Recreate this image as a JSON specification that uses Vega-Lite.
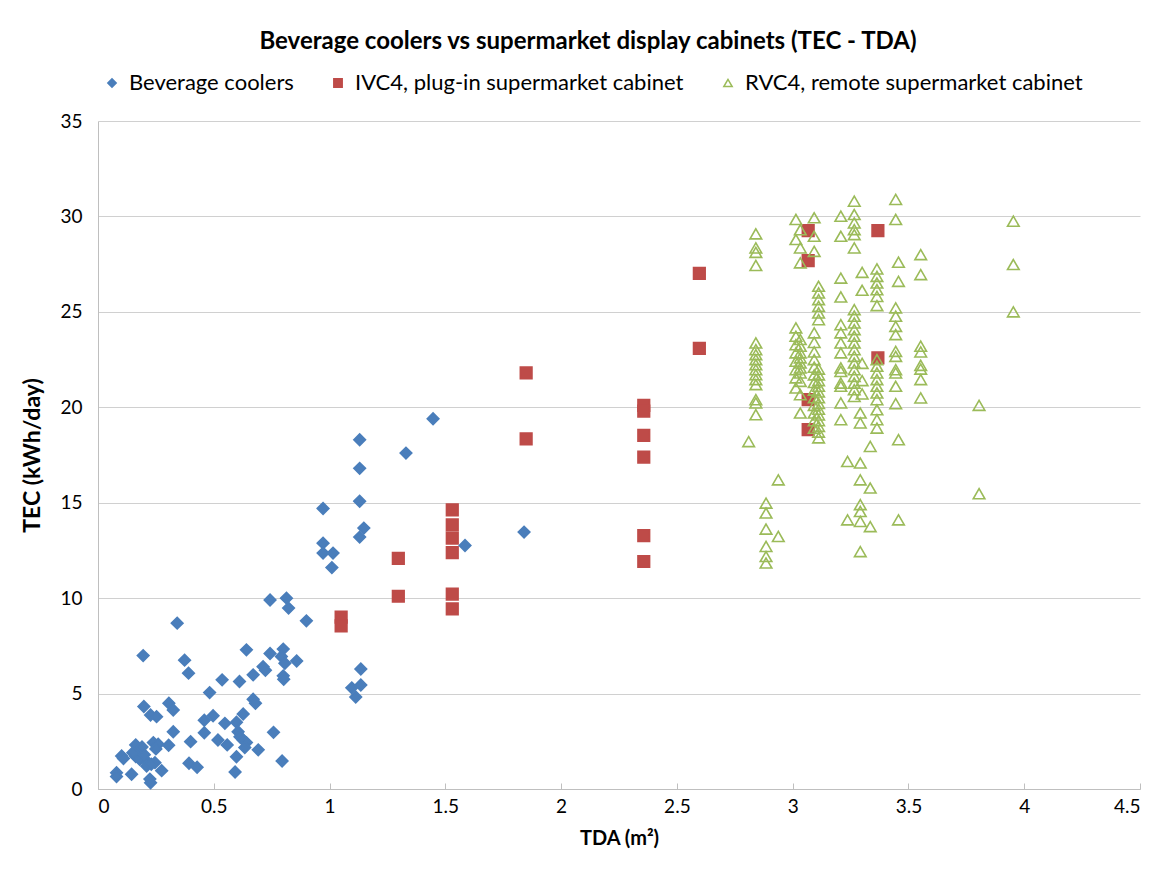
{
  "$schema": "https://vega.github.io/schema/vega-lite/v6.json",
  "width": 1042,
  "height": 668,
  "autosize": {"type": "none"},
  "padding": {"left": 98, "top": 121, "right": 20, "bottom": 83},
  "background": "white",
  "title": {
    "text": "Beverage coolers vs supermarket display cabinets (TEC - TDA)",
    "fontSize": 24,
    "fontWeight": "bold",
    "font": "Lato",
    "color": "#000000",
    "anchor": "middle",
    "frame": "group",
    "dx": -31,
    "offset": 18
  },
  "config": {
    "view": {"stroke": null},
    "font": "Lato",
    "axis": {
      "labelFont": "Lato",
      "titleFont": "Lato",
      "labelColor": "#000000",
      "titleColor": "#000000",
      "labelFontSize": 19,
      "titleFontSize": 20,
      "titleFontWeight": "bold",
      "domainColor": "#bfbfbf",
      "tickColor": "#bfbfbf",
      "gridColor": "#d0d0d0"
    },
    "legend": {
      "labelFont": "Lato",
      "labelFontSize": 22,
      "labelColor": "#000000",
      "labelLimit": 500,
      "padding": 0
    }
  },
  "data": {
    "values": [
      {"x": 1.01, "y": 11.6, "s": "Beverage coolers"},
      {"x": 0.743, "y": 9.9, "s": "Beverage coolers"},
      {"x": 0.814, "y": 10.0, "s": "Beverage coolers"},
      {"x": 0.823, "y": 9.48, "s": "Beverage coolers"},
      {"x": 0.9, "y": 8.81, "s": "Beverage coolers"},
      {"x": 0.342, "y": 8.69, "s": "Beverage coolers"},
      {"x": 0.195, "y": 6.99, "s": "Beverage coolers"},
      {"x": 0.374, "y": 6.75, "s": "Beverage coolers"},
      {"x": 0.391, "y": 6.07, "s": "Beverage coolers"},
      {"x": 0.641, "y": 7.29, "s": "Beverage coolers"},
      {"x": 0.743, "y": 7.1, "s": "Beverage coolers"},
      {"x": 0.8, "y": 7.33, "s": "Beverage coolers"},
      {"x": 0.792, "y": 6.94, "s": "Beverage coolers"},
      {"x": 0.807, "y": 6.59, "s": "Beverage coolers"},
      {"x": 0.858, "y": 6.71, "s": "Beverage coolers"},
      {"x": 0.713, "y": 6.41, "s": "Beverage coolers"},
      {"x": 0.723, "y": 6.22, "s": "Beverage coolers"},
      {"x": 0.67, "y": 5.98, "s": "Beverage coolers"},
      {"x": 0.8, "y": 5.93, "s": "Beverage coolers"},
      {"x": 0.802, "y": 5.75, "s": "Beverage coolers"},
      {"x": 0.536, "y": 5.72, "s": "Beverage coolers"},
      {"x": 0.611, "y": 5.63, "s": "Beverage coolers"},
      {"x": 0.482, "y": 5.05, "s": "Beverage coolers"},
      {"x": 0.198, "y": 4.32, "s": "Beverage coolers"},
      {"x": 0.306, "y": 4.49, "s": "Beverage coolers"},
      {"x": 0.325, "y": 4.14, "s": "Beverage coolers"},
      {"x": 0.227, "y": 3.88, "s": "Beverage coolers"},
      {"x": 0.253, "y": 3.79, "s": "Beverage coolers"},
      {"x": 0.67, "y": 4.7, "s": "Beverage coolers"},
      {"x": 0.68, "y": 4.49, "s": "Beverage coolers"},
      {"x": 0.627, "y": 3.93, "s": "Beverage coolers"},
      {"x": 0.497, "y": 3.84, "s": "Beverage coolers"},
      {"x": 0.459, "y": 3.6, "s": "Beverage coolers"},
      {"x": 0.548, "y": 3.44, "s": "Beverage coolers"},
      {"x": 0.598, "y": 3.5, "s": "Beverage coolers"},
      {"x": 0.325, "y": 3.0, "s": "Beverage coolers"},
      {"x": 0.459, "y": 2.95, "s": "Beverage coolers"},
      {"x": 0.758, "y": 2.97, "s": "Beverage coolers"},
      {"x": 0.605, "y": 3.0, "s": "Beverage coolers"},
      {"x": 0.613, "y": 2.74, "s": "Beverage coolers"},
      {"x": 0.627, "y": 2.57, "s": "Beverage coolers"},
      {"x": 0.641, "y": 2.43, "s": "Beverage coolers"},
      {"x": 0.634, "y": 2.17, "s": "Beverage coolers"},
      {"x": 0.692, "y": 2.05, "s": "Beverage coolers"},
      {"x": 0.518, "y": 2.57, "s": "Beverage coolers"},
      {"x": 0.558, "y": 2.31, "s": "Beverage coolers"},
      {"x": 0.4, "y": 2.48, "s": "Beverage coolers"},
      {"x": 0.598, "y": 1.69, "s": "Beverage coolers"},
      {"x": 0.795, "y": 1.47, "s": "Beverage coolers"},
      {"x": 0.592, "y": 0.89, "s": "Beverage coolers"},
      {"x": 0.393, "y": 1.35, "s": "Beverage coolers"},
      {"x": 0.428, "y": 1.14, "s": "Beverage coolers"},
      {"x": 0.163, "y": 2.31, "s": "Beverage coolers"},
      {"x": 0.175, "y": 2.0, "s": "Beverage coolers"},
      {"x": 0.239, "y": 2.43, "s": "Beverage coolers"},
      {"x": 0.26, "y": 2.35, "s": "Beverage coolers"},
      {"x": 0.305, "y": 2.29, "s": "Beverage coolers"},
      {"x": 0.102, "y": 1.73, "s": "Beverage coolers"},
      {"x": 0.163, "y": 1.7, "s": "Beverage coolers"},
      {"x": 0.18, "y": 1.55, "s": "Beverage coolers"},
      {"x": 0.217, "y": 1.38, "s": "Beverage coolers"},
      {"x": 0.246, "y": 1.38, "s": "Beverage coolers"},
      {"x": 0.275, "y": 0.96, "s": "Beverage coolers"},
      {"x": 0.145, "y": 0.77, "s": "Beverage coolers"},
      {"x": 0.08, "y": 0.85, "s": "Beverage coolers"},
      {"x": 0.08, "y": 0.65, "s": "Beverage coolers"},
      {"x": 0.224, "y": 0.52, "s": "Beverage coolers"},
      {"x": 0.227, "y": 0.33, "s": "Beverage coolers"},
      {"x": 0.15, "y": 1.9, "s": "Beverage coolers"},
      {"x": 0.2, "y": 1.8, "s": "Beverage coolers"},
      {"x": 0.19, "y": 2.2, "s": "Beverage coolers"},
      {"x": 0.21, "y": 1.2, "s": "Beverage coolers"},
      {"x": 0.11, "y": 1.6, "s": "Beverage coolers"},
      {"x": 0.25, "y": 2.1, "s": "Beverage coolers"},
      {"x": 0.23, "y": 1.3, "s": "Beverage coolers"},
      {"x": 1.447, "y": 19.4, "s": "Beverage coolers"},
      {"x": 1.13, "y": 18.3, "s": "Beverage coolers"},
      {"x": 1.33, "y": 17.6, "s": "Beverage coolers"},
      {"x": 1.13, "y": 16.8, "s": "Beverage coolers"},
      {"x": 1.13, "y": 15.08, "s": "Beverage coolers"},
      {"x": 0.972, "y": 14.7, "s": "Beverage coolers"},
      {"x": 1.148, "y": 13.67, "s": "Beverage coolers"},
      {"x": 1.13, "y": 13.2, "s": "Beverage coolers"},
      {"x": 0.972, "y": 12.88, "s": "Beverage coolers"},
      {"x": 0.972, "y": 12.36, "s": "Beverage coolers"},
      {"x": 1.015, "y": 12.36, "s": "Beverage coolers"},
      {"x": 1.585, "y": 12.76, "s": "Beverage coolers"},
      {"x": 1.84, "y": 13.46, "s": "Beverage coolers"},
      {"x": 1.096, "y": 5.3, "s": "Beverage coolers"},
      {"x": 1.113, "y": 4.82, "s": "Beverage coolers"},
      {"x": 1.135, "y": 6.29, "s": "Beverage coolers"},
      {"x": 1.135, "y": 5.45, "s": "Beverage coolers"},
      {"x": 2.597, "y": 27.02, "s": "IVC4, plug-in supermarket cabinet"},
      {"x": 2.597, "y": 23.09, "s": "IVC4, plug-in supermarket cabinet"},
      {"x": 1.849, "y": 21.8, "s": "IVC4, plug-in supermarket cabinet"},
      {"x": 1.849, "y": 18.35, "s": "IVC4, plug-in supermarket cabinet"},
      {"x": 2.357, "y": 20.1, "s": "IVC4, plug-in supermarket cabinet"},
      {"x": 2.357, "y": 19.8, "s": "IVC4, plug-in supermarket cabinet"},
      {"x": 2.357, "y": 18.53, "s": "IVC4, plug-in supermarket cabinet"},
      {"x": 2.357, "y": 17.39, "s": "IVC4, plug-in supermarket cabinet"},
      {"x": 2.357, "y": 13.27, "s": "IVC4, plug-in supermarket cabinet"},
      {"x": 2.357, "y": 11.92, "s": "IVC4, plug-in supermarket cabinet"},
      {"x": 1.53, "y": 14.63, "s": "IVC4, plug-in supermarket cabinet"},
      {"x": 1.53, "y": 13.84, "s": "IVC4, plug-in supermarket cabinet"},
      {"x": 1.53, "y": 13.15, "s": "IVC4, plug-in supermarket cabinet"},
      {"x": 1.53, "y": 12.39, "s": "IVC4, plug-in supermarket cabinet"},
      {"x": 1.297, "y": 12.08, "s": "IVC4, plug-in supermarket cabinet"},
      {"x": 1.297, "y": 10.1, "s": "IVC4, plug-in supermarket cabinet"},
      {"x": 1.53, "y": 10.21, "s": "IVC4, plug-in supermarket cabinet"},
      {"x": 1.53, "y": 9.44, "s": "IVC4, plug-in supermarket cabinet"},
      {"x": 1.05, "y": 9.0, "s": "IVC4, plug-in supermarket cabinet"},
      {"x": 1.05, "y": 8.55, "s": "IVC4, plug-in supermarket cabinet"},
      {"x": 3.067, "y": 29.26, "s": "IVC4, plug-in supermarket cabinet"},
      {"x": 3.067, "y": 27.69, "s": "IVC4, plug-in supermarket cabinet"},
      {"x": 3.368, "y": 29.26, "s": "IVC4, plug-in supermarket cabinet"},
      {"x": 3.368, "y": 22.59, "s": "IVC4, plug-in supermarket cabinet"},
      {"x": 3.067, "y": 20.4, "s": "IVC4, plug-in supermarket cabinet"},
      {"x": 3.067, "y": 18.83, "s": "IVC4, plug-in supermarket cabinet"},
      {"x": 2.841, "y": 29.09, "s": "RVC4, remote supermarket cabinet"},
      {"x": 2.841, "y": 28.35, "s": "RVC4, remote supermarket cabinet"},
      {"x": 2.841, "y": 28.12, "s": "RVC4, remote supermarket cabinet"},
      {"x": 2.841, "y": 27.43, "s": "RVC4, remote supermarket cabinet"},
      {"x": 2.841, "y": 23.37, "s": "RVC4, remote supermarket cabinet"},
      {"x": 2.841, "y": 23.02, "s": "RVC4, remote supermarket cabinet"},
      {"x": 2.841, "y": 22.76, "s": "RVC4, remote supermarket cabinet"},
      {"x": 2.841, "y": 22.5, "s": "RVC4, remote supermarket cabinet"},
      {"x": 2.841, "y": 22.23, "s": "RVC4, remote supermarket cabinet"},
      {"x": 2.841, "y": 21.97, "s": "RVC4, remote supermarket cabinet"},
      {"x": 2.841, "y": 21.71, "s": "RVC4, remote supermarket cabinet"},
      {"x": 2.841, "y": 21.45, "s": "RVC4, remote supermarket cabinet"},
      {"x": 2.841, "y": 21.19, "s": "RVC4, remote supermarket cabinet"},
      {"x": 2.841, "y": 20.4, "s": "RVC4, remote supermarket cabinet"},
      {"x": 2.841, "y": 20.23, "s": "RVC4, remote supermarket cabinet"},
      {"x": 2.841, "y": 19.61, "s": "RVC4, remote supermarket cabinet"},
      {"x": 2.81, "y": 18.2, "s": "RVC4, remote supermarket cabinet"},
      {"x": 2.885, "y": 14.98, "s": "RVC4, remote supermarket cabinet"},
      {"x": 2.885, "y": 14.46, "s": "RVC4, remote supermarket cabinet"},
      {"x": 2.885, "y": 13.62, "s": "RVC4, remote supermarket cabinet"},
      {"x": 2.885, "y": 12.71, "s": "RVC4, remote supermarket cabinet"},
      {"x": 2.885, "y": 12.18, "s": "RVC4, remote supermarket cabinet"},
      {"x": 2.885, "y": 11.84, "s": "RVC4, remote supermarket cabinet"},
      {"x": 2.938, "y": 16.2, "s": "RVC4, remote supermarket cabinet"},
      {"x": 2.938, "y": 13.23, "s": "RVC4, remote supermarket cabinet"},
      {"x": 3.014, "y": 29.84, "s": "RVC4, remote supermarket cabinet"},
      {"x": 3.014, "y": 28.79, "s": "RVC4, remote supermarket cabinet"},
      {"x": 3.014, "y": 24.16, "s": "RVC4, remote supermarket cabinet"},
      {"x": 3.014, "y": 23.72, "s": "RVC4, remote supermarket cabinet"},
      {"x": 3.014, "y": 23.28, "s": "RVC4, remote supermarket cabinet"},
      {"x": 3.014, "y": 22.85, "s": "RVC4, remote supermarket cabinet"},
      {"x": 3.014, "y": 22.41, "s": "RVC4, remote supermarket cabinet"},
      {"x": 3.014, "y": 21.97, "s": "RVC4, remote supermarket cabinet"},
      {"x": 3.014, "y": 21.54, "s": "RVC4, remote supermarket cabinet"},
      {"x": 3.014, "y": 21.01, "s": "RVC4, remote supermarket cabinet"},
      {"x": 3.033, "y": 29.3, "s": "RVC4, remote supermarket cabinet"},
      {"x": 3.033, "y": 28.35, "s": "RVC4, remote supermarket cabinet"},
      {"x": 3.033, "y": 27.57, "s": "RVC4, remote supermarket cabinet"},
      {"x": 3.033, "y": 23.55, "s": "RVC4, remote supermarket cabinet"},
      {"x": 3.033, "y": 23.2, "s": "RVC4, remote supermarket cabinet"},
      {"x": 3.033, "y": 22.85, "s": "RVC4, remote supermarket cabinet"},
      {"x": 3.033, "y": 22.59, "s": "RVC4, remote supermarket cabinet"},
      {"x": 3.033, "y": 22.32, "s": "RVC4, remote supermarket cabinet"},
      {"x": 3.033, "y": 22.06, "s": "RVC4, remote supermarket cabinet"},
      {"x": 3.033, "y": 21.8, "s": "RVC4, remote supermarket cabinet"},
      {"x": 3.033, "y": 21.36, "s": "RVC4, remote supermarket cabinet"},
      {"x": 3.033, "y": 20.66, "s": "RVC4, remote supermarket cabinet"},
      {"x": 3.033, "y": 19.7, "s": "RVC4, remote supermarket cabinet"},
      {"x": 3.093, "y": 29.93, "s": "RVC4, remote supermarket cabinet"},
      {"x": 3.093, "y": 28.96, "s": "RVC4, remote supermarket cabinet"},
      {"x": 3.093, "y": 28.17, "s": "RVC4, remote supermarket cabinet"},
      {"x": 3.093, "y": 23.9, "s": "RVC4, remote supermarket cabinet"},
      {"x": 3.093, "y": 23.4, "s": "RVC4, remote supermarket cabinet"},
      {"x": 3.093, "y": 22.9, "s": "RVC4, remote supermarket cabinet"},
      {"x": 3.093, "y": 22.5, "s": "RVC4, remote supermarket cabinet"},
      {"x": 3.093, "y": 22.1, "s": "RVC4, remote supermarket cabinet"},
      {"x": 3.093, "y": 21.7, "s": "RVC4, remote supermarket cabinet"},
      {"x": 3.093, "y": 21.3, "s": "RVC4, remote supermarket cabinet"},
      {"x": 3.093, "y": 20.9, "s": "RVC4, remote supermarket cabinet"},
      {"x": 3.093, "y": 20.5, "s": "RVC4, remote supermarket cabinet"},
      {"x": 3.093, "y": 20.1, "s": "RVC4, remote supermarket cabinet"},
      {"x": 3.093, "y": 19.7, "s": "RVC4, remote supermarket cabinet"},
      {"x": 3.093, "y": 19.3, "s": "RVC4, remote supermarket cabinet"},
      {"x": 3.093, "y": 18.9, "s": "RVC4, remote supermarket cabinet"},
      {"x": 3.112, "y": 26.34, "s": "RVC4, remote supermarket cabinet"},
      {"x": 3.112, "y": 25.99, "s": "RVC4, remote supermarket cabinet"},
      {"x": 3.112, "y": 25.64, "s": "RVC4, remote supermarket cabinet"},
      {"x": 3.112, "y": 25.29, "s": "RVC4, remote supermarket cabinet"},
      {"x": 3.112, "y": 24.94, "s": "RVC4, remote supermarket cabinet"},
      {"x": 3.112, "y": 24.59, "s": "RVC4, remote supermarket cabinet"},
      {"x": 3.112, "y": 22.0, "s": "RVC4, remote supermarket cabinet"},
      {"x": 3.112, "y": 21.7, "s": "RVC4, remote supermarket cabinet"},
      {"x": 3.112, "y": 21.4, "s": "RVC4, remote supermarket cabinet"},
      {"x": 3.112, "y": 21.1, "s": "RVC4, remote supermarket cabinet"},
      {"x": 3.112, "y": 20.8, "s": "RVC4, remote supermarket cabinet"},
      {"x": 3.112, "y": 20.5, "s": "RVC4, remote supermarket cabinet"},
      {"x": 3.112, "y": 20.2, "s": "RVC4, remote supermarket cabinet"},
      {"x": 3.112, "y": 19.9, "s": "RVC4, remote supermarket cabinet"},
      {"x": 3.112, "y": 19.6, "s": "RVC4, remote supermarket cabinet"},
      {"x": 3.112, "y": 19.3, "s": "RVC4, remote supermarket cabinet"},
      {"x": 3.112, "y": 19.0, "s": "RVC4, remote supermarket cabinet"},
      {"x": 3.112, "y": 18.7, "s": "RVC4, remote supermarket cabinet"},
      {"x": 3.112, "y": 18.4, "s": "RVC4, remote supermarket cabinet"},
      {"x": 3.208, "y": 30.01, "s": "RVC4, remote supermarket cabinet"},
      {"x": 3.208, "y": 28.96, "s": "RVC4, remote supermarket cabinet"},
      {"x": 3.208, "y": 26.77, "s": "RVC4, remote supermarket cabinet"},
      {"x": 3.208, "y": 25.78, "s": "RVC4, remote supermarket cabinet"},
      {"x": 3.208, "y": 24.33, "s": "RVC4, remote supermarket cabinet"},
      {"x": 3.208, "y": 23.9, "s": "RVC4, remote supermarket cabinet"},
      {"x": 3.208, "y": 23.37, "s": "RVC4, remote supermarket cabinet"},
      {"x": 3.208, "y": 22.85, "s": "RVC4, remote supermarket cabinet"},
      {"x": 3.208, "y": 22.06, "s": "RVC4, remote supermarket cabinet"},
      {"x": 3.208, "y": 21.88, "s": "RVC4, remote supermarket cabinet"},
      {"x": 3.208, "y": 21.27, "s": "RVC4, remote supermarket cabinet"},
      {"x": 3.208, "y": 21.1, "s": "RVC4, remote supermarket cabinet"},
      {"x": 3.208, "y": 20.23, "s": "RVC4, remote supermarket cabinet"},
      {"x": 3.208, "y": 19.35, "s": "RVC4, remote supermarket cabinet"},
      {"x": 3.237, "y": 17.16, "s": "RVC4, remote supermarket cabinet"},
      {"x": 3.237, "y": 14.1, "s": "RVC4, remote supermarket cabinet"},
      {"x": 3.266, "y": 30.8, "s": "RVC4, remote supermarket cabinet"},
      {"x": 3.266, "y": 30.1, "s": "RVC4, remote supermarket cabinet"},
      {"x": 3.266, "y": 29.66, "s": "RVC4, remote supermarket cabinet"},
      {"x": 3.266, "y": 29.31, "s": "RVC4, remote supermarket cabinet"},
      {"x": 3.266, "y": 29.05, "s": "RVC4, remote supermarket cabinet"},
      {"x": 3.266, "y": 28.35, "s": "RVC4, remote supermarket cabinet"},
      {"x": 3.266, "y": 25.12, "s": "RVC4, remote supermarket cabinet"},
      {"x": 3.266, "y": 24.77, "s": "RVC4, remote supermarket cabinet"},
      {"x": 3.266, "y": 24.42, "s": "RVC4, remote supermarket cabinet"},
      {"x": 3.266, "y": 24.07, "s": "RVC4, remote supermarket cabinet"},
      {"x": 3.266, "y": 23.72, "s": "RVC4, remote supermarket cabinet"},
      {"x": 3.266, "y": 23.37, "s": "RVC4, remote supermarket cabinet"},
      {"x": 3.266, "y": 23.02, "s": "RVC4, remote supermarket cabinet"},
      {"x": 3.266, "y": 22.67, "s": "RVC4, remote supermarket cabinet"},
      {"x": 3.266, "y": 22.32, "s": "RVC4, remote supermarket cabinet"},
      {"x": 3.266, "y": 21.97, "s": "RVC4, remote supermarket cabinet"},
      {"x": 3.266, "y": 21.62, "s": "RVC4, remote supermarket cabinet"},
      {"x": 3.266, "y": 21.27, "s": "RVC4, remote supermarket cabinet"},
      {"x": 3.266, "y": 20.92, "s": "RVC4, remote supermarket cabinet"},
      {"x": 3.266, "y": 20.57, "s": "RVC4, remote supermarket cabinet"},
      {"x": 3.292, "y": 19.7, "s": "RVC4, remote supermarket cabinet"},
      {"x": 3.292, "y": 19.18, "s": "RVC4, remote supermarket cabinet"},
      {"x": 3.292, "y": 17.08, "s": "RVC4, remote supermarket cabinet"},
      {"x": 3.292, "y": 16.2, "s": "RVC4, remote supermarket cabinet"},
      {"x": 3.292, "y": 14.9, "s": "RVC4, remote supermarket cabinet"},
      {"x": 3.292, "y": 14.54, "s": "RVC4, remote supermarket cabinet"},
      {"x": 3.292, "y": 14.02, "s": "RVC4, remote supermarket cabinet"},
      {"x": 3.292, "y": 12.44, "s": "RVC4, remote supermarket cabinet"},
      {"x": 3.3, "y": 27.07, "s": "RVC4, remote supermarket cabinet"},
      {"x": 3.3, "y": 26.13, "s": "RVC4, remote supermarket cabinet"},
      {"x": 3.3, "y": 22.3, "s": "RVC4, remote supermarket cabinet"},
      {"x": 3.3, "y": 21.4, "s": "RVC4, remote supermarket cabinet"},
      {"x": 3.3, "y": 20.7, "s": "RVC4, remote supermarket cabinet"},
      {"x": 3.335, "y": 17.95, "s": "RVC4, remote supermarket cabinet"},
      {"x": 3.335, "y": 15.77, "s": "RVC4, remote supermarket cabinet"},
      {"x": 3.335, "y": 13.75, "s": "RVC4, remote supermarket cabinet"},
      {"x": 3.364, "y": 27.25, "s": "RVC4, remote supermarket cabinet"},
      {"x": 3.364, "y": 26.86, "s": "RVC4, remote supermarket cabinet"},
      {"x": 3.364, "y": 26.51, "s": "RVC4, remote supermarket cabinet"},
      {"x": 3.364, "y": 26.16, "s": "RVC4, remote supermarket cabinet"},
      {"x": 3.364, "y": 25.81, "s": "RVC4, remote supermarket cabinet"},
      {"x": 3.364, "y": 25.33, "s": "RVC4, remote supermarket cabinet"},
      {"x": 3.364, "y": 22.5, "s": "RVC4, remote supermarket cabinet"},
      {"x": 3.364, "y": 22.15, "s": "RVC4, remote supermarket cabinet"},
      {"x": 3.364, "y": 21.8, "s": "RVC4, remote supermarket cabinet"},
      {"x": 3.364, "y": 21.45, "s": "RVC4, remote supermarket cabinet"},
      {"x": 3.364, "y": 21.1, "s": "RVC4, remote supermarket cabinet"},
      {"x": 3.364, "y": 20.75, "s": "RVC4, remote supermarket cabinet"},
      {"x": 3.364, "y": 20.4, "s": "RVC4, remote supermarket cabinet"},
      {"x": 3.364, "y": 19.87, "s": "RVC4, remote supermarket cabinet"},
      {"x": 3.364, "y": 19.35, "s": "RVC4, remote supermarket cabinet"},
      {"x": 3.364, "y": 18.91, "s": "RVC4, remote supermarket cabinet"},
      {"x": 3.445, "y": 30.89, "s": "RVC4, remote supermarket cabinet"},
      {"x": 3.445, "y": 29.84, "s": "RVC4, remote supermarket cabinet"},
      {"x": 3.445, "y": 25.21, "s": "RVC4, remote supermarket cabinet"},
      {"x": 3.445, "y": 24.77, "s": "RVC4, remote supermarket cabinet"},
      {"x": 3.445, "y": 24.24, "s": "RVC4, remote supermarket cabinet"},
      {"x": 3.445, "y": 23.81, "s": "RVC4, remote supermarket cabinet"},
      {"x": 3.445, "y": 22.93, "s": "RVC4, remote supermarket cabinet"},
      {"x": 3.445, "y": 22.67, "s": "RVC4, remote supermarket cabinet"},
      {"x": 3.445, "y": 21.97, "s": "RVC4, remote supermarket cabinet"},
      {"x": 3.445, "y": 21.8, "s": "RVC4, remote supermarket cabinet"},
      {"x": 3.445, "y": 21.1, "s": "RVC4, remote supermarket cabinet"},
      {"x": 3.445, "y": 20.19, "s": "RVC4, remote supermarket cabinet"},
      {"x": 3.457, "y": 27.6, "s": "RVC4, remote supermarket cabinet"},
      {"x": 3.457, "y": 26.6, "s": "RVC4, remote supermarket cabinet"},
      {"x": 3.457, "y": 18.3, "s": "RVC4, remote supermarket cabinet"},
      {"x": 3.457, "y": 14.1, "s": "RVC4, remote supermarket cabinet"},
      {"x": 3.553, "y": 28.0, "s": "RVC4, remote supermarket cabinet"},
      {"x": 3.553, "y": 26.95, "s": "RVC4, remote supermarket cabinet"},
      {"x": 3.553, "y": 23.2, "s": "RVC4, remote supermarket cabinet"},
      {"x": 3.553, "y": 22.9, "s": "RVC4, remote supermarket cabinet"},
      {"x": 3.553, "y": 22.2, "s": "RVC4, remote supermarket cabinet"},
      {"x": 3.553, "y": 22.0, "s": "RVC4, remote supermarket cabinet"},
      {"x": 3.553, "y": 21.45, "s": "RVC4, remote supermarket cabinet"},
      {"x": 3.553, "y": 20.49, "s": "RVC4, remote supermarket cabinet"},
      {"x": 3.953, "y": 29.75, "s": "RVC4, remote supermarket cabinet"},
      {"x": 3.953, "y": 27.48, "s": "RVC4, remote supermarket cabinet"},
      {"x": 3.953, "y": 25.0, "s": "RVC4, remote supermarket cabinet"},
      {"x": 3.805, "y": 20.1, "s": "RVC4, remote supermarket cabinet"},
      {"x": 3.805, "y": 15.47, "s": "RVC4, remote supermarket cabinet"}
    ]
  },
  "mark": {"type": "point", "size": 135, "strokeWidth": 1.6, "opacity": 1, "fillOpacity": 1},
  "encoding": {
    "x": {
      "field": "x", "type": "quantitative",
      "scale": {"domain": [0, 4.5], "nice": false, "zero": false},
      "axis": {
        "title": "TDA (m²)",
        "values": [0, 0.5, 1, 1.5, 2, 2.5, 3, 3.5, 4, 4.5],
        "format": "~g",
        "grid": false,
        "tickSize": -6,
        "labelPadding": 14,
        "titlePadding": 12
      }
    },
    "y": {
      "field": "y", "type": "quantitative",
      "scale": {"domain": [0, 35], "nice": false},
      "axis": {
        "title": "TEC (kWh/day)",
        "titleFontSize": 23,
        "values": [0, 5, 10, 15, 20, 25, 30, 35],
        "grid": true,
        "ticks": false,
        "labelPadding": 16,
        "titlePadding": 15
      }
    },
    "shape": {
      "field": "s", "type": "nominal",
      "scale": {
        "domain": ["Beverage coolers", "IVC4, plug-in supermarket cabinet", "RVC4, remote supermarket cabinet"],
        "range": ["diamond", "square", "triangle-up"]
      },
      "legend": {"title": null, "orient": "none", "direction": "horizontal", "legendX": 3, "legendY": -49, "symbolSize": 70, "columnPadding": 33, "labelOffset": 6}
    },
    "fill": {
      "field": "s", "type": "nominal",
      "scale": {
        "domain": ["Beverage coolers", "IVC4, plug-in supermarket cabinet", "RVC4, remote supermarket cabinet"],
        "range": ["#4A7EBB", "#BE4B48", "transparent"]
      },
      "legend": {"title": null, "orient": "none", "direction": "horizontal", "legendX": 3, "legendY": -49, "symbolSize": 70, "columnPadding": 33, "labelOffset": 6}
    },
    "stroke": {
      "field": "s", "type": "nominal",
      "scale": {
        "domain": ["Beverage coolers", "IVC4, plug-in supermarket cabinet", "RVC4, remote supermarket cabinet"],
        "range": ["#4A7EBB", "#BE4B48", "#9BBB59"]
      },
      "legend": {"title": null, "orient": "none", "direction": "horizontal", "legendX": 3, "legendY": -49, "symbolSize": 70, "columnPadding": 33, "labelOffset": 6}
    }
  }
}
